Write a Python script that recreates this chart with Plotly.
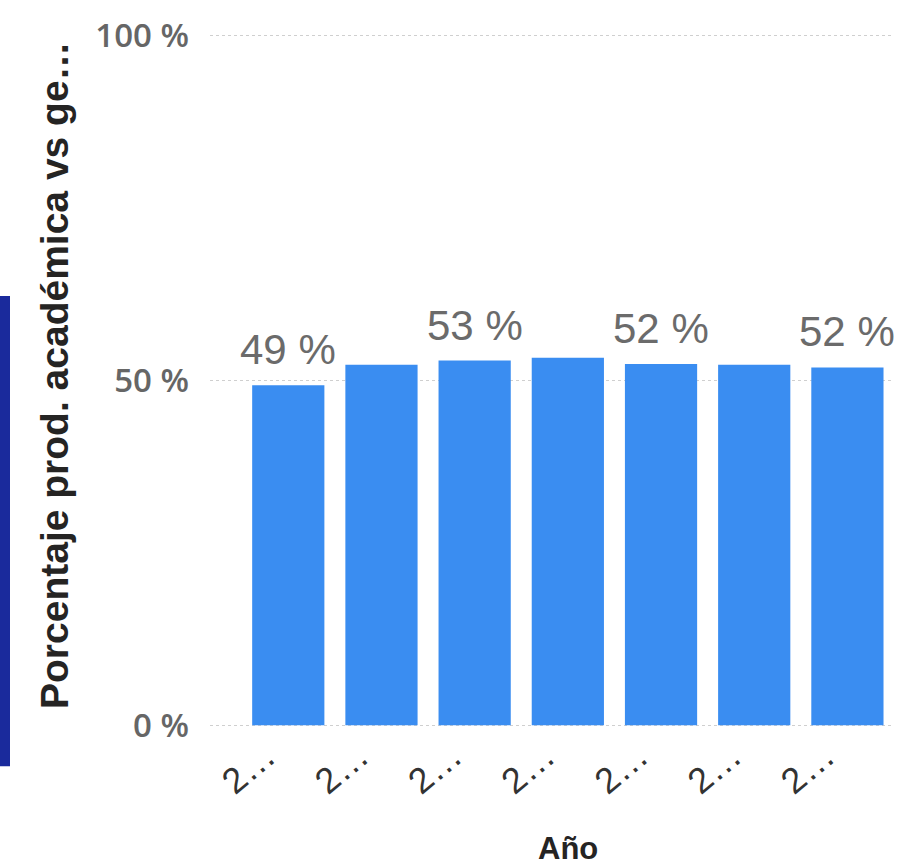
import plotly.graph_objects as go

# ---- data ----
positions = [0, 1, 2, 3, 4, 5, 6]
tick_labels = ["2…", "2…", "2…", "2…", "2…", "2…", "2…"]
values = [49.3, 52.3, 52.9, 53.3, 52.4, 52.3, 51.9]
data_labels = ["49 %", "", "53 %", "", "52 %", "", "52 %"]
y_ticks = [0, 50, 100]
y_tick_labels = ["0 %", "50 %", "100 %"]
y_title = "Porcentaje prod. académica vs ge…"
x_title = "Año"

W, H = 899, 866
PAD = 0.25  # range padding (in %) so the 0 % and 100 % gridlines are drawn
ML, MR = 210, 5
MT = 36 - PAD * 6.89
MB = 141 - PAD * 6.89
PW = W - ML - MR
PH = H - MB - MT


def px_x(px):
    return (px - ML) / PW


def px_y(py):
    return (H - MB - py) / PH


fig = go.Figure()
fig.add_trace(go.Bar(
    x=positions, y=values,
    marker=dict(color="#3a8df1", line=dict(width=0)),
    width=0.775,
    hoverinfo="skip",
))

for xv, yv, t in zip(positions, values, data_labels):
    if t:
        fig.add_annotation(
            x=xv, y=yv, xref="x", yref="y", text=t, showarrow=False,
            yanchor="bottom", xanchor="center", yshift=10,
            font=dict(family="Liberation Sans, Arial, sans-serif", size=42, color="#6b6b6b"),
        )

fig.add_annotation(
    x=px_x(55), y=px_y(375), xref="paper", yref="paper", text=y_title,
    showarrow=False, textangle=-90, xanchor="center", yanchor="middle",
    font=dict(family="Liberation Sans, Arial, sans-serif", size=39, color="#252423", weight="bold"),
)
fig.add_annotation(
    x=3, y=px_y(868), xref="x", yref="paper", text=x_title,
    showarrow=False, xanchor="center", yanchor="bottom",
    font=dict(family="Liberation Sans, Arial, sans-serif", size=31, color="#252423", weight="bold"),
)

# fragment of neighbouring visual: dark blue strip on the left edge
fig.add_shape(
    type="rect", xref="paper", yref="paper",
    x0=px_x(-2), x1=px_x(10), y0=px_y(766), y1=px_y(296),
    fillcolor="#1a2a9c", line=dict(width=0), layer="above",
)

fig.update_layout(
    width=W, height=H,
    margin=dict(l=ML, r=MR, t=MT, b=MB, pad=0),
    paper_bgcolor="white", plot_bgcolor="white",
    showlegend=False,
    xaxis=dict(
        range=[-0.84, 6.5],
        tickmode="array", tickvals=positions, ticktext=tick_labels,
        tickangle=-40, ticks="", showgrid=False, zeroline=False, showline=False,
        tickfont=dict(family="Liberation Sans, Arial, sans-serif", size=36, color="#333333"),
        ticklabelshift=-22, ticklabelstandoff=0,
        fixedrange=True,
    ),
    yaxis=dict(
        range=[-PAD, 100 + PAD],
        tickmode="array", tickvals=y_ticks, ticktext=y_tick_labels,
        showgrid=True, gridcolor="#cfcfcf", griddash="dot", gridwidth=1,
        zeroline=False, showline=False, ticks="",
        tickfont=dict(family="Open Sans, sans-serif", size=33, color="#666666", weight=600),
        ticklabelstandoff=20,
        fixedrange=True,
    ),
)

fig.write_html("out.html")
